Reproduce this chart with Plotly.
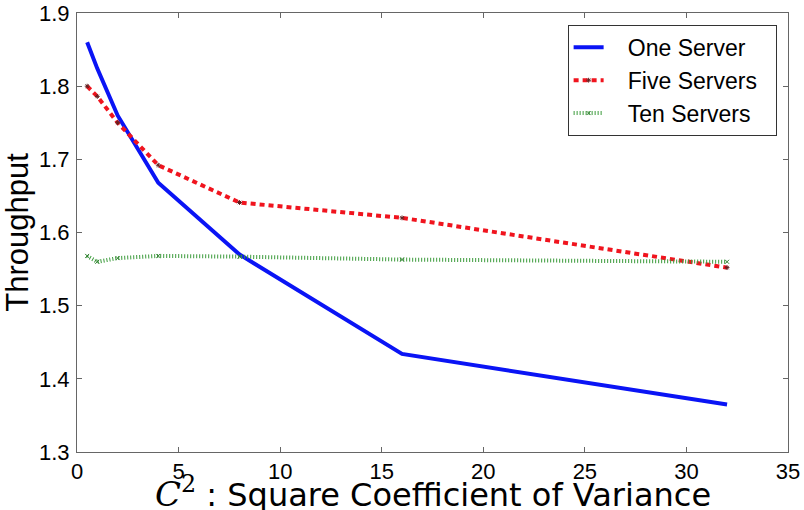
import plotly.graph_objects as go

c2 = [0.5, 1, 2, 4, 8, 16, 32]
one_server = [1.860, 1.824, 1.760, 1.668, 1.570, 1.434, 1.365]
five_servers = [1.800, 1.786, 1.750, 1.692, 1.641, 1.620, 1.552]
ten_servers = [1.568, 1.560, 1.565, 1.568, 1.567, 1.563, 1.560]

x_ticks = [0, 5, 10, 15, 20, 25, 30, 35]
y_ticks = [1.3, 1.4, 1.5, 1.6, 1.7, 1.8, 1.9]

pad = "\u00a0\u00a0\u00a0"
fig = go.Figure()
fig.add_trace(go.Scatter(x=c2, y=one_server, mode="lines", name=pad + "One Server" + "\u00a0\u00a0",
                         line=dict(color="#0a14f5", width=4)))
fig.add_trace(go.Scatter(x=c2, y=five_servers, mode="lines+markers", name=pad + "Five Servers" + "\u00a0\u00a0",
                         line=dict(color="#f0141e", width=4, dash="5px,4px"),
                         marker=dict(symbol="asterisk-open", size=4, color="#602020",
                                     line=dict(width=1, color="#602020"))))
fig.add_trace(go.Scatter(x=c2, y=ten_servers, mode="lines+markers", name=pad + "Ten Servers" + "\u00a0\u00a0",
                         line=dict(color="#3a9a3a", width=4, dash="1px,2px"),
                         marker=dict(symbol="x-thin-open", size=4, color="#2f7f2f",
                                     line=dict(width=1, color="#2f7f2f"))))

axis_common = dict(showgrid=False, zeroline=False, showline=True, mirror="ticks",
                   linecolor="#666666", linewidth=1, ticks="inside", ticklen=5,
                   tickcolor="#666666", automargin=False,
                   tickfont=dict(family="Liberation Sans, Arial, sans-serif", size=22, color="black"))

fig.update_xaxes(range=[0, 35], tickvals=x_ticks, ticktext=[str(v) for v in x_ticks],
                 **axis_common)
fig.update_yaxes(range=[1.3, 1.9], tickvals=y_ticks, ticktext=[f"{v:.1f}" for v in y_ticks],
                 ticklabelstandoff=2,
                 title=dict(text="Throughput", standoff=4,
                            font=dict(family="Liberation Sans, Arial, sans-serif", size=31, color="black")),
                 **axis_common)

fig.add_annotation(
    xref="paper", yref="paper", x=0.5, y=-0.09, xanchor="center", yanchor="middle",
    showarrow=False,
    text='<span style="font-family:\'DejaVu Serif\', serif; font-size:34px"><i>C</i><sup>2</sup></span> : Square Coefficient of Variance',
    font=dict(family="DejaVu Sans, sans-serif", size=32, color="black"),
)

fig.update_layout(
    width=804, height=510,
    margin=dict(l=77, r=16, t=13, b=58),
    plot_bgcolor="white", paper_bgcolor="white",
    legend=dict(x=0.984, y=0.973, xanchor="right", yanchor="top",
                bordercolor="#333333", borderwidth=1, bgcolor="white",
                font=dict(family="Liberation Sans, Arial, sans-serif", size=23, color="black"),
                tracegroupgap=0),
)

fig.write_html("out.html")
